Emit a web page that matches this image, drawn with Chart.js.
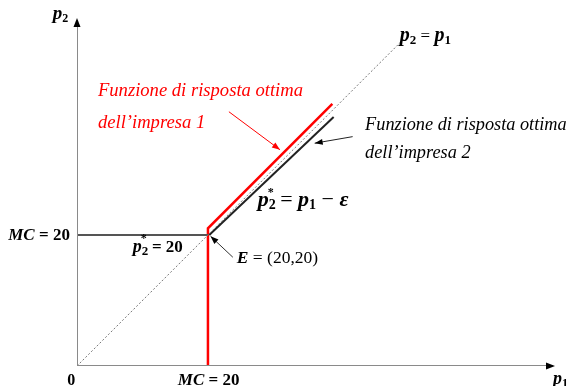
<!DOCTYPE html>
<html>
<head>
<meta charset="utf-8">
<script src="https://cdn.jsdelivr.net/npm/chart.js@4.4.0/dist/chart.umd.min.js"></script>
<style>
  html, body { margin: 0; padding: 0; background: #fff; }
  #wrap { width: 569px; height: 386px; }
</style>
</head>
<body>
<div id="wrap"><canvas id="myChart"></canvas></div>
<script>
// valori del grafico (unita' di prezzo)
var mc = 20;
var xMax = 72.7, yMax = 52.8;

var assiX = [0, 72.7];          // asse p1
var assiY = [0, 52.8];          // asse p2
var bisettriceX = [0, 50];      // p2 = p1
var bisettriceY = [0, 50];
var risposta1X = [20, 20, 39];  // impresa 1
var risposta1Y = [0, 21, 40];
var mcLineaX = [0, 20];         // p2* = 20
var mcLineaY = [20, 20];
var risposta2X = [20.2, 39.2];  // impresa 2
var risposta2Y = [20, 38];
var frecciaRossaX = [23.2, 31.0];
var frecciaRossaY = [38.8, 33.0];
var frecciaNeraX = [42.1, 36.3];
var frecciaNeraY = [35.0, 34.0];
var frecciaEX = [23.8, 20.4];
var frecciaEY = [16.6, 19.8];

function punti(xs, ys) {
    var out = [];
    for (var i = 0; i < xs.length; i++) out.push({ x: xs[i], y: ys[i] });
    return out;
}

var FAM = '"Liberation Serif", "DejaVu Serif", serif';

// etichette: posizione (sinistra, linea di base) in unita' dei dati
var etichette = [
    { x: -3.7, y: 52.9, parti: [['p', 'bold italic 19px'], ['2', 'bold 12px', 3]] },
    { x: 3.2, y: 41.2, colore: '#ff0000', parti: [['Funzione di risposta ottima', 'italic 18.6px']] },
    { x: 3.2, y: 36.3, colore: '#ff0000', parti: [['dell\u2019impresa 1', 'italic 18.6px']] },
    { x: 49.3, y: 49.6, parti: [['p', 'bold italic 20px'], ['2', 'bold 13px', 3], [' = ', '17px'], ['p', 'bold italic 20px'], ['1', 'bold 13px', 3]] },
    { x: 44.0, y: 36.0, parti: [['Funzione di risposta ottima', 'italic 18.3px']] },
    { x: 44.0, y: 31.8, parti: [['dell\u2019impresa 2', 'italic 18.3px']] },
    { x: 27.6, y: 24.4, stella: true, parti: [['p', 'bold italic 22px'], ['2', 'bold 14px', 3], [' = ', '22px'], ['p', 'bold italic 22px'], ['1', 'bold 14px', 3], [' \u2212 ', '22px'], ['\u03b5', 'bold italic 22px']] },
    { x: -10.5, y: 19.2, parti: [['MC', 'bold italic 17px'], [' = 20', 'bold 17px']] },
    { x: 8.5, y: 17.4, stella: true, parti: [['p', 'bold italic 18px'], ['2', 'bold 13px', 3], [' = 20', 'bold 17px']] },
    { x: 24.4, y: 15.7, parti: [['E', 'bold italic 17.5px'], [' = (20,20)', '17.5px']] },
    { x: -1.5, y: -2.9, parti: [['0', 'bold 16px']] },
    { x: 15.4, y: -2.9, parti: [['MC', 'bold italic 17px'], [' = 20', 'bold 17px']] },
    { x: 72.7, y: -2.8, parti: [['p', 'bold italic 18px'], ['1', 'bold 12px', 3]] }
];

function punta(ctx, x0, y0, x1, y1, lung, larg, colore) {
    var a = Math.atan2(y1 - y0, x1 - x0);
    ctx.save();
    ctx.fillStyle = colore;
    ctx.translate(x1, y1);
    ctx.rotate(a);
    ctx.beginPath();
    ctx.moveTo(0, 0);
    ctx.lineTo(-lung, -larg / 2);
    ctx.lineTo(-lung, larg / 2);
    ctx.closePath();
    ctx.fill();
    ctx.restore();
}

var pluginTesti = {
    id: 'testi',
    afterDraw: function (chart) {
        var ctx = chart.ctx;
        var sx = chart.scales.x, sy = chart.scales.y;
        // punte delle frecce
        var P = function (x, y) { return [sx.getPixelForValue(x), sy.getPixelForValue(y)]; };
        var a, b;
        a = P(assiX[0], 0); b = P(assiX[1], 0);
        punta(ctx, a[0], a[1], b[0] + 2, b[1], 9, 7, '#000');
        a = P(0, assiY[0]); b = P(0, assiY[1]);
        punta(ctx, a[0], a[1], b[0], b[1] - 2, 9, 7, '#000');
        a = P(frecciaRossaX[0], frecciaRossaY[0]); b = P(frecciaRossaX[1], frecciaRossaY[1]);
        punta(ctx, a[0], a[1], b[0], b[1], 8, 6, '#ff0000');
        a = P(frecciaNeraX[0], frecciaNeraY[0]); b = P(frecciaNeraX[1], frecciaNeraY[1]);
        punta(ctx, a[0], a[1], b[0], b[1], 8, 6, '#000');
        a = P(frecciaEX[0], frecciaEY[0]); b = P(frecciaEX[1], frecciaEY[1]);
        punta(ctx, a[0], a[1], b[0], b[1], 8, 6, '#000');

        // testi
        ctx.save();
        ctx.textBaseline = 'alphabetic';
        ctx.textAlign = 'left';
        etichette.forEach(function (e) {
            var x = sx.getPixelForValue(e.x);
            var y = sy.getPixelForValue(e.y);
            ctx.fillStyle = e.colore || '#000';
            e.parti.forEach(function (p, i) {
                ctx.font = p[1] + ' ' + FAM;
                ctx.fillText(p[0], x, y + (p[2] || 0));
                if (e.stella && i === 1) {
                    ctx.font = 'bold 12px ' + FAM;
                    ctx.fillText('*', x - 1, y - 10);
                }
                x += ctx.measureText(p[0]).width;
            });
        });
        ctx.restore();
    }
};

var ctx = document.getElementById('myChart').getContext('2d');
var myChart = new Chart(ctx, {
    type: 'scatter',
    data: {
        datasets: [
            { data: punti(assiX, [0, 0]), borderColor: '#8a8a8a', borderWidth: 2 },
            { data: punti([0, 0], assiY), borderColor: '#8a8a8a', borderWidth: 2 },
            { data: punti(bisettriceX, bisettriceY), borderColor: '#777', borderWidth: 1, borderDash: [2, 2] },
            { data: punti(mcLineaX, mcLineaY), borderColor: '#555', borderWidth: 2 },
            { data: punti(risposta2X, risposta2Y), borderColor: '#222', borderWidth: 2 },
            { data: punti(risposta1X, risposta1Y), borderColor: '#ff0000', borderWidth: 2.5 },
            { data: punti(frecciaRossaX, frecciaRossaY), borderColor: '#ff0000', borderWidth: 1 },
            { data: punti(frecciaNeraX, frecciaNeraY), borderColor: '#222', borderWidth: 1 },
            { data: punti(frecciaEX, frecciaEY), borderColor: '#333', borderWidth: 1 }
        ]
    },
    options: {
        responsive: true,
        maintainAspectRatio: false,
        animation: false,
        showLine: true,
        elements: { point: { radius: 0 }, line: { tension: 0 } },
        layout: { padding: { left: 77, right: 16, top: 20, bottom: 20 } },
        plugins: { legend: { display: false }, tooltip: { enabled: false } },
        scales: {
            x: { type: 'linear', min: 0, max: xMax, display: false },
            y: { type: 'linear', min: 0, max: yMax, display: false }
        }
    },
    plugins: [pluginTesti]
});
</script>
</body>
</html>
